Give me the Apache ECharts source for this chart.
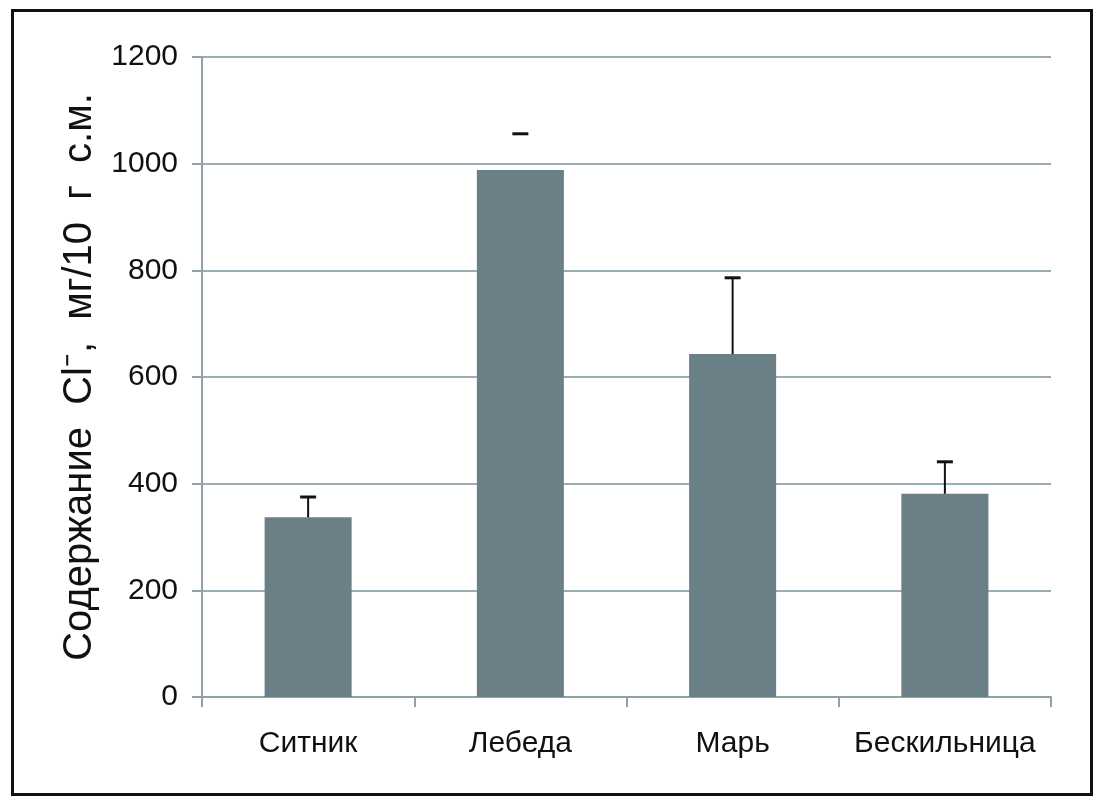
<!DOCTYPE html>
<html>
<head>
<meta charset="utf-8">
<script src="https://cdn.jsdelivr.net/npm/echarts@6/dist/echarts.min.js"></script>
<style>
  html, body { margin: 0; padding: 0; background: #fff; }
  #frame { position: absolute; left: 11px; top: 9px; width: 1076px; height: 781px; border: 3px solid #111; }
  #chart { position: absolute; left: 0; top: 0; width: 1102px; height: 801px; }
</style>
</head>
<body>
<div id="frame"></div>
<div id="chart"></div>
<script>
// данные
var categories = ['Ситник', 'Лебеда', 'Марь', 'Бескильница'];
var values = [337, 988, 643, 381];
var errorTop = [375, 1056, 786, 441];
var showStem = [true, false, true, true];

var font = "'Liberation Sans Narrow', 'Liberation Sans', Arial, sans-serif";
var axisColor = '#8fa2aa';

var chart = echarts.init(document.getElementById('chart'));

var errData = [];
for (var i = 0; i < categories.length; i++) {
    errData.push([i, values[i], errorTop[i], showStem[i] ? 1 : 0]);
}

chart.setOption({
    animation: false,
    grid: {
        left: 202,
        right: 51,
        top: 57,
        bottom: 104
    },
    xAxis: {
        type: 'category',
        data: categories,
        axisLine: { lineStyle: { color: axisColor, width: 2 } },
        axisTick: { show: true, interval: 0, length: 10, lineStyle: { color: axisColor, width: 2 } },
        axisLabel: { interval: 0, color: '#111', fontSize: 30, fontFamily: font, margin: 32 }
    },
    yAxis: {
        type: 'value',
        min: 0,
        max: 1200,
        interval: 200,
        name: 'Содержание  Cl⁻,  мг/10  г  с.м.',
        nameLocation: 'middle',
        nameGap: 100,
        nameTextStyle: { color: '#111', fontSize: 40, fontFamily: font },
        axisLine: { show: true, lineStyle: { color: axisColor, width: 2 } },
        axisTick: { show: true, length: 10, lineStyle: { color: axisColor, width: 2 } },
        axisLabel: {
            color: '#111', fontSize: 30, fontFamily: font, margin: 24,
            formatter: function (v) { return String(v); }
        },
        splitLine: { lineStyle: { color: '#9aadb5', width: 2 } }
    },
    series: [
        {
            type: 'bar',
            data: values,
            barCategoryGap: '59%',
            itemStyle: { color: '#6b7f87' }
        },
        {
            type: 'custom',
            data: errData,
            z: 10,
            renderItem: function (params, api) {
                var base = api.coord([api.value(0), api.value(1)]);
                var top = api.coord([api.value(0), api.value(2)]);
                var x = base[0];
                var children = [{
                    type: 'line',
                    shape: { x1: x - 8, y1: top[1], x2: x + 8, y2: top[1] },
                    style: { stroke: '#111', lineWidth: 3 }
                }];
                if (api.value(3)) {
                    children.push({
                        type: 'line',
                        shape: { x1: x, y1: base[1], x2: x, y2: top[1] },
                        style: { stroke: '#111', lineWidth: 2 }
                    });
                }
                return { type: 'group', children: children };
            }
        }
    ]
});
</script>
</body>
</html>
